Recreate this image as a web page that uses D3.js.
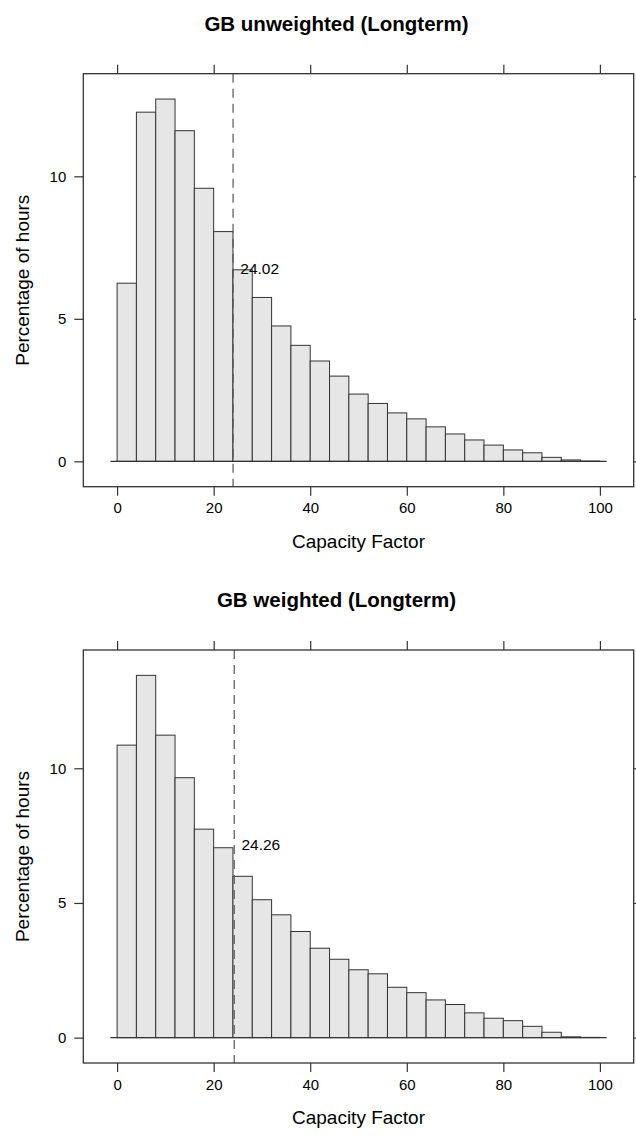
<!DOCTYPE html>
<html>
<head>
<meta charset="utf-8">
<script src="https://cdn.jsdelivr.net/npm/d3@7"></script>
<style>
  body { margin: 0; background: #fff; }
  text { font-family: "Liberation Sans", Arial, sans-serif; fill: #000; }
</style>
</head>
<body>
<div id="chart"></div>
<script>
var binEdges = d3.range(0, 101, 4),
    xTicks = [0, 20, 40, 60, 80, 100],
    yTicks = [0, 5, 10];

// percentage of hours per 4% capacity factor bin
var unweighted = [6.25, 12.25, 12.71, 11.60, 9.58, 8.06, 6.72, 5.75, 4.75, 4.07,
                  3.52, 2.99, 2.36, 2.03, 1.70, 1.49, 1.21, 0.96, 0.75, 0.57,
                  0.40, 0.30, 0.14, 0.05, 0.01],
    weighted = [10.86, 13.45, 11.23, 9.65, 7.74, 7.05, 5.99, 5.12, 4.56, 3.94,
                3.32, 2.91, 2.52, 2.37, 1.87, 1.67, 1.40, 1.23, 0.92, 0.72,
                0.63, 0.42, 0.20, 0.03, 0.01];

var panels = [
  { title: "GB unweighted (Longterm)", values: unweighted, mean: 24.02, labelY: 6.78 },
  { title: "GB weighted (Longterm)",   values: weighted,   mean: 24.26, labelY: 7.15 }
];

var width = 636, height = 1135,
    boxLeft = 83.3, boxRight = 633.7,
    boxTops = [73.7, 650],
    boxHeight = 413;

var svg = d3.select("#chart").append("svg")
  .attr("width", width)
  .attr("height", height);

var x = d3.scaleLinear()
  .domain([-7, 107])
  .range([boxLeft, boxRight]);

////////////////////////////////////////////////////////////
//////////////////// Draw each panel ///////////////////////
////////////////////////////////////////////////////////////

panels.forEach(function(p, k) {
  var top = boxTops[k],
      bottom = top + boxHeight,
      ymax = d3.max(p.values),
      pad = ymax * 0.07;

  var y = d3.scaleLinear()
    .domain([-pad, ymax + pad])
    .range([bottom, top]);

  var g = svg.append("g");

  // title
  g.append("text")
    .attr("x", 336.5)
    .attr("y", top - 43)
    .attr("text-anchor", "middle")
    .style("font-size", "20.5px")
    .style("font-weight", "bold")
    .text(p.title);

  // bars
  g.selectAll("rect.bar")
    .data(p.values)
    .enter().append("rect")
    .attr("class", "bar")
    .attr("x", function(d, i) { return x(binEdges[i]); })
    .attr("width", function(d, i) { return x(binEdges[i + 1]) - x(binEdges[i]); })
    .attr("y", function(d) { return y(d); })
    .attr("height", function(d) { return y(0) - y(d); })
    .style("fill", "#e6e6e6")
    .style("stroke", "#333")
    .style("stroke-width", 1);

  // baseline
  g.append("line")
    .attr("x1", x(-1.4)).attr("x2", x(101.4))
    .attr("y1", y(0)).attr("y2", y(0))
    .style("stroke", "#333")
    .style("stroke-width", 1.2);

  // mean line
  g.append("line")
    .attr("x1", x(p.mean)).attr("x2", x(p.mean))
    .attr("y1", top).attr("y2", bottom)
    .style("stroke", "#555")
    .style("stroke-width", 1.2)
    .style("stroke-dasharray", "9,6");

  g.append("text")
    .attr("x", x(p.mean + 1.5))
    .attr("y", y(p.labelY))
    .attr("dy", ".35em")
    .style("font-size", "15.5px")
    .text(p.mean.toFixed(2));

  // box
  g.append("rect")
    .attr("x", boxLeft).attr("y", top)
    .attr("width", boxRight - boxLeft).attr("height", boxHeight)
    .style("fill", "none")
    .style("stroke", "#333")
    .style("stroke-width", 1.3);

  // x axes (bottom with labels, top ticks only)
  var xBottom = d3.axisBottom(x).tickValues(xTicks).tickSize(9).tickPadding(7),
      xTop = d3.axisTop(x).tickValues(xTicks).tickSize(9).tickFormat("");
  var yLeft = d3.axisLeft(y).tickValues(yTicks).tickSize(9).tickPadding(8),
      yRight = d3.axisRight(y).tickValues(yTicks).tickSize(9).tickFormat("");

  [[xBottom, "translate(0," + bottom + ")"],
   [xTop, "translate(0," + top + ")"],
   [yLeft, "translate(" + boxLeft + ",0)"],
   [yRight, "translate(" + boxRight + ",0)"]].forEach(function(a) {
    var ax = g.append("g").attr("transform", a[1]).call(a[0]);
    ax.select(".domain").remove();
    ax.selectAll("line").style("stroke", "#333").style("stroke-width", 1.2);
    ax.selectAll("text")
      .style("font-family", "Liberation Sans, Arial, sans-serif")
      .style("font-size", "15px")
      .style("fill", "#000");
  });

  // axis titles
  g.append("text")
    .attr("x", (boxLeft + boxRight) / 2)
    .attr("y", bottom + 61)
    .attr("text-anchor", "middle")
    .style("font-size", "19px")
    .text("Capacity Factor");

  g.append("text")
    .attr("transform", "translate(29," + (top + boxHeight / 2) + ") rotate(-90)")
    .attr("text-anchor", "middle")
    .style("font-size", "19px")
    .text("Percentage of hours");
});
</script>
</body>
</html>
